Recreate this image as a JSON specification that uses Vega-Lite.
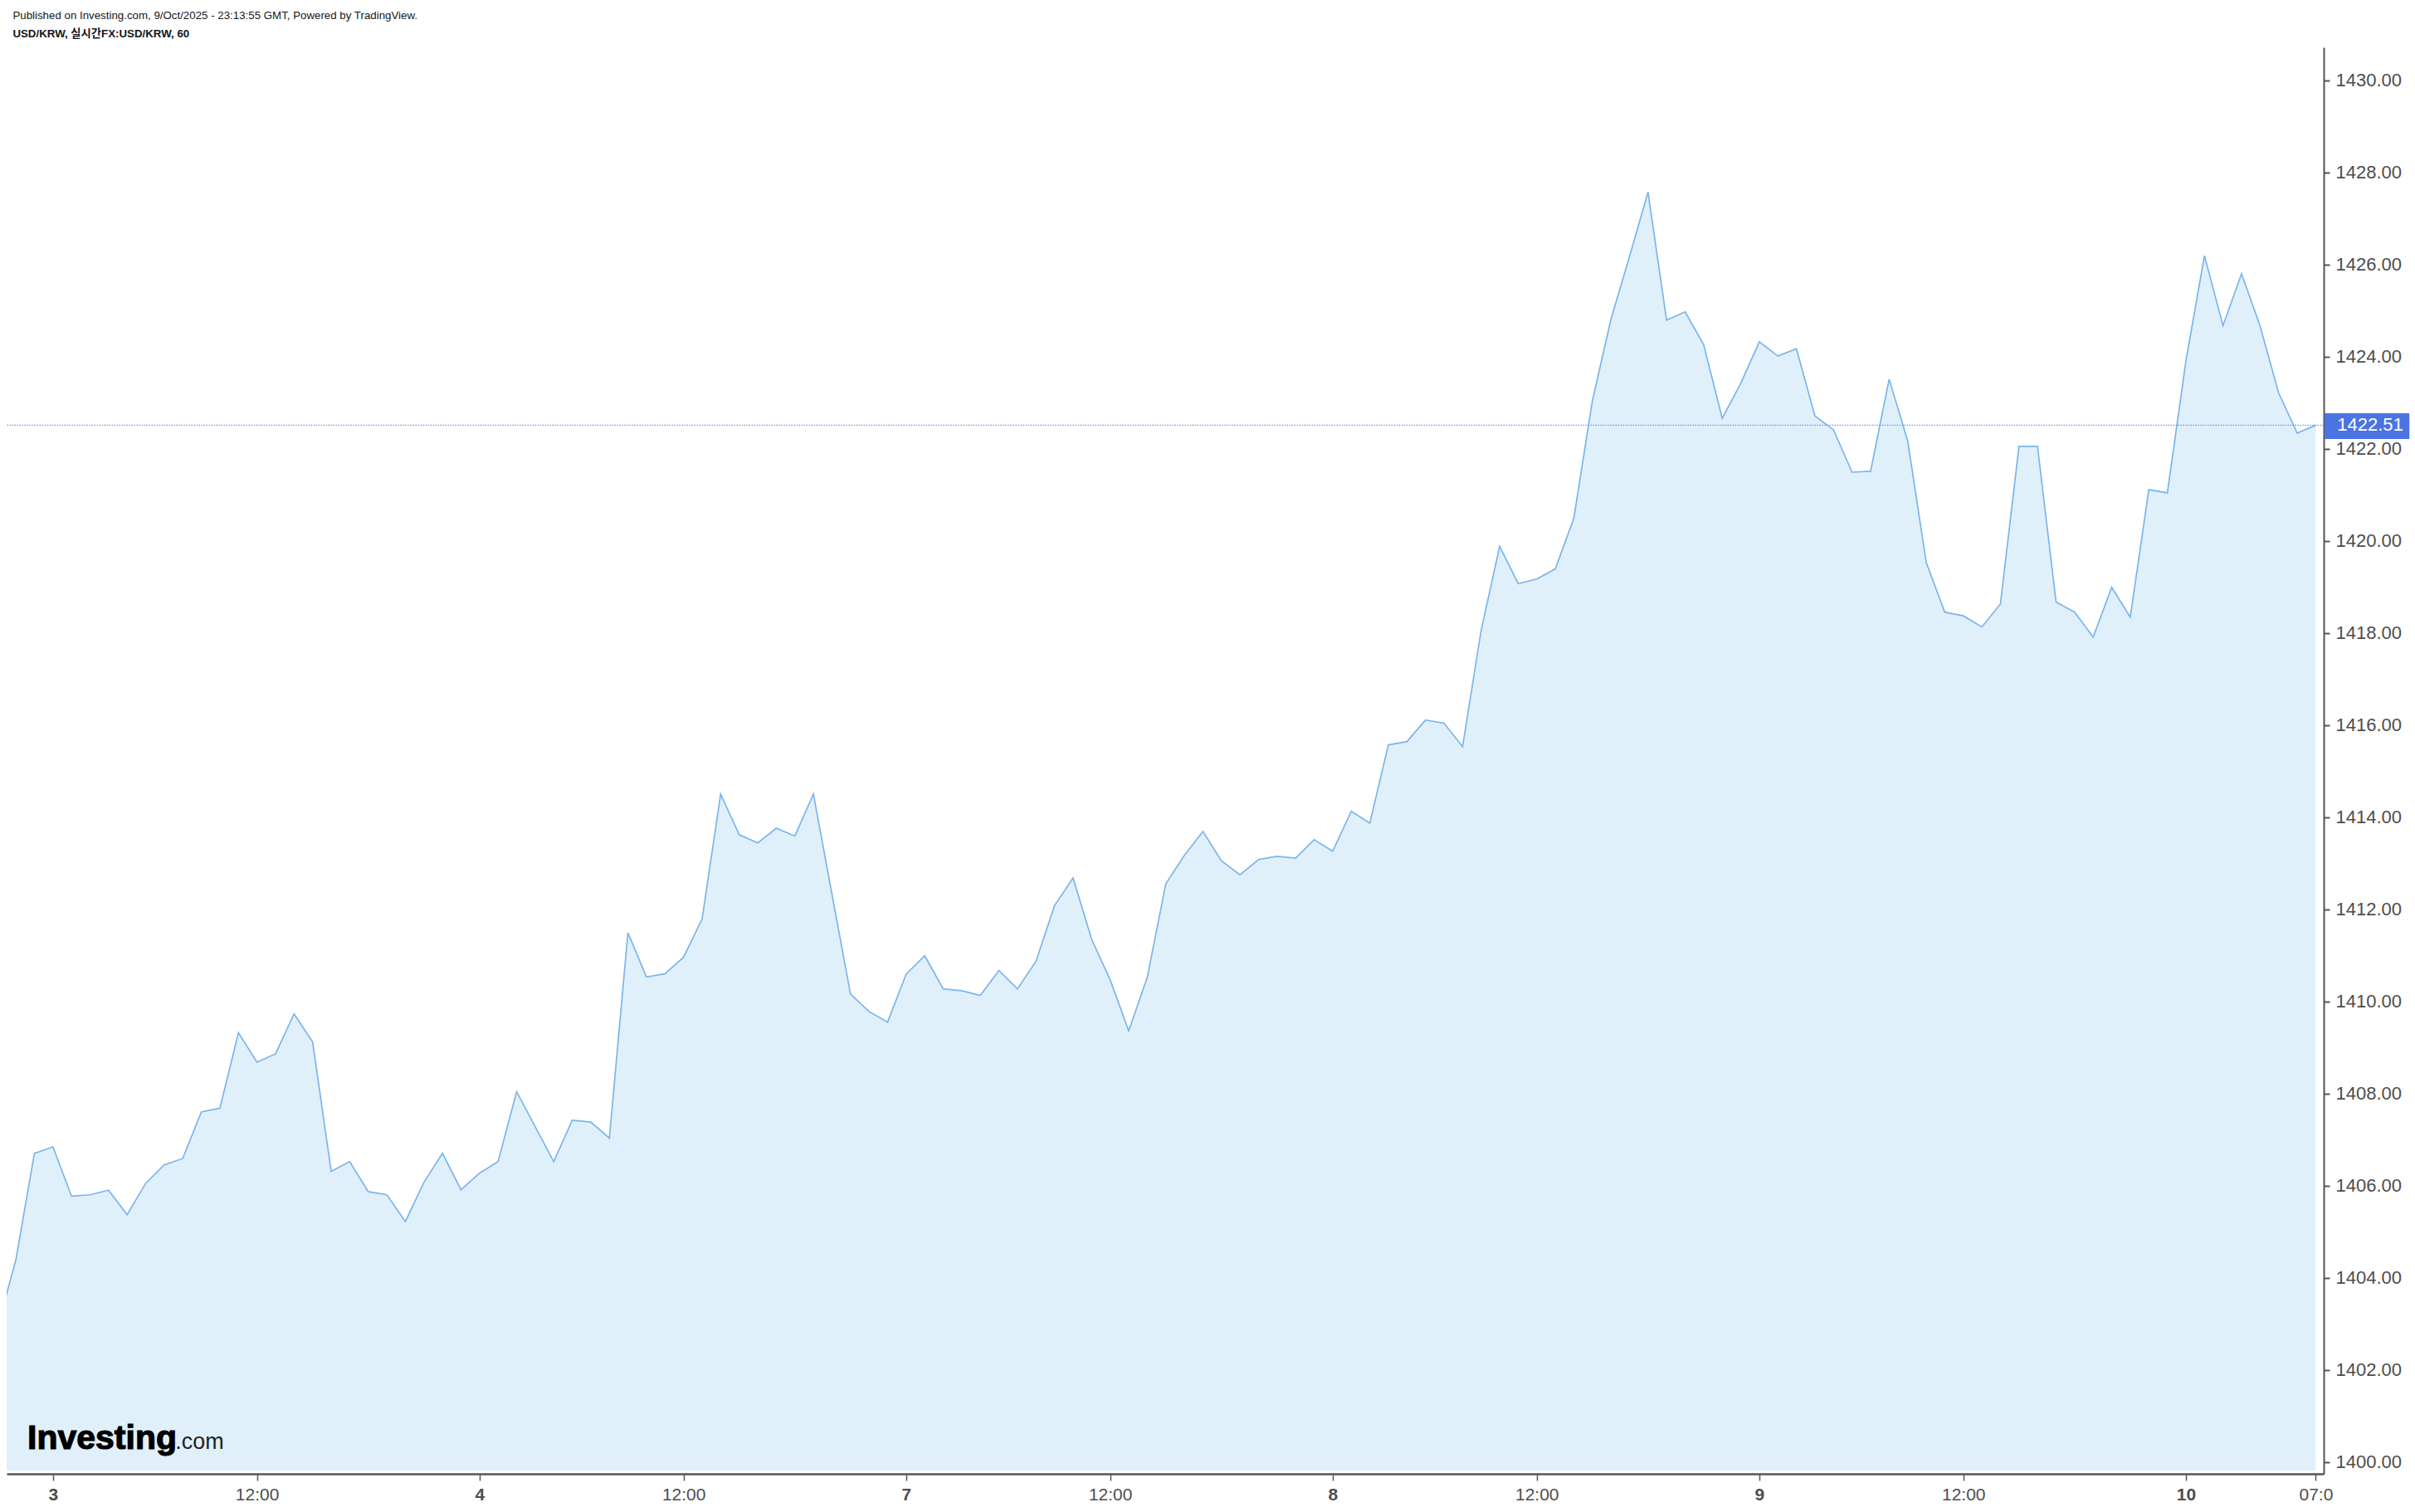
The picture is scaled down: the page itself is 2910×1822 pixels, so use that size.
{
  "$schema": "https://vega.github.io/schema/vega-lite/v6.json",
  "width": 2792,
  "height": 1719,
  "autosize": {"type": "none"},
  "padding": {"left": 8, "top": 57, "right": 110, "bottom": 46},
  "background": "#ffffff",
  "config": {"view": {"stroke": null}, "axis": {"grid": false}},
  "title": {
    "text": "Published on Investing.com, 9/Oct/2025 - 23:13:55 GMT, Powered by TradingView.",
    "subtitle": "USD/KRW, 실시간FX:USD/KRW, 60",
    "anchor": "start",
    "dx": 8,
    "offset": 10,
    "font": "Liberation Sans",
    "fontSize": 13.3,
    "fontWeight": "normal",
    "color": "#131722",
    "subtitleFont": "'Liberation Sans', 'Noto Sans CJK KR', sans-serif",
    "subtitleFontSize": 13.3,
    "subtitleFontWeight": "bold",
    "subtitleColor": "#131722",
    "subtitlePadding": 8
  },
  "layer": [
    {
      "data": {
        "values": [
          {"bar": -3, "usdkrw": 1402.90}, {"bar": -2, "usdkrw": 1404.39}, {"bar": -1, "usdkrw": 1406.70},
          {"bar": 0, "usdkrw": 1406.84}, {"bar": 1, "usdkrw": 1405.77}, {"bar": 2, "usdkrw": 1405.80},
          {"bar": 3, "usdkrw": 1405.90}, {"bar": 4, "usdkrw": 1405.37}, {"bar": 5, "usdkrw": 1406.05},
          {"bar": 6, "usdkrw": 1406.45}, {"bar": 7, "usdkrw": 1406.59}, {"bar": 8, "usdkrw": 1407.60},
          {"bar": 9, "usdkrw": 1407.68}, {"bar": 10, "usdkrw": 1409.32}, {"bar": 11, "usdkrw": 1408.68},
          {"bar": 12, "usdkrw": 1408.86}, {"bar": 13, "usdkrw": 1409.73}, {"bar": 14, "usdkrw": 1409.12},
          {"bar": 15, "usdkrw": 1406.31}, {"bar": 16, "usdkrw": 1406.52}, {"bar": 17, "usdkrw": 1405.87},
          {"bar": 18, "usdkrw": 1405.80}, {"bar": 19, "usdkrw": 1405.22}, {"bar": 20, "usdkrw": 1406.07},
          {"bar": 21, "usdkrw": 1406.70}, {"bar": 22, "usdkrw": 1405.91}, {"bar": 23, "usdkrw": 1406.27},
          {"bar": 24, "usdkrw": 1406.52}, {"bar": 25, "usdkrw": 1408.04}, {"bar": 26, "usdkrw": 1407.28},
          {"bar": 27, "usdkrw": 1406.52}, {"bar": 28, "usdkrw": 1407.42}, {"bar": 29, "usdkrw": 1407.38},
          {"bar": 30, "usdkrw": 1407.03}, {"bar": 31, "usdkrw": 1411.49}, {"bar": 32, "usdkrw": 1410.53},
          {"bar": 33, "usdkrw": 1410.60}, {"bar": 34, "usdkrw": 1410.96}, {"bar": 35, "usdkrw": 1411.79},
          {"bar": 36, "usdkrw": 1414.50}, {"bar": 37, "usdkrw": 1413.62}, {"bar": 38, "usdkrw": 1413.44},
          {"bar": 39, "usdkrw": 1413.76}, {"bar": 40, "usdkrw": 1413.59}, {"bar": 41, "usdkrw": 1414.50},
          {"bar": 42, "usdkrw": 1412.33}, {"bar": 43, "usdkrw": 1410.16}, {"bar": 44, "usdkrw": 1409.78},
          {"bar": 45, "usdkrw": 1409.55}, {"bar": 46, "usdkrw": 1410.59}, {"bar": 47, "usdkrw": 1410.99},
          {"bar": 48, "usdkrw": 1410.27}, {"bar": 49, "usdkrw": 1410.23}, {"bar": 50, "usdkrw": 1410.13},
          {"bar": 51, "usdkrw": 1410.67}, {"bar": 52, "usdkrw": 1410.27}, {"bar": 53, "usdkrw": 1410.87},
          {"bar": 54, "usdkrw": 1412.08}, {"bar": 55, "usdkrw": 1412.68}, {"bar": 56, "usdkrw": 1411.35},
          {"bar": 57, "usdkrw": 1410.47}, {"bar": 58, "usdkrw": 1409.36}, {"bar": 59, "usdkrw": 1410.52},
          {"bar": 60, "usdkrw": 1412.55}, {"bar": 61, "usdkrw": 1413.17}, {"bar": 62, "usdkrw": 1413.69},
          {"bar": 63, "usdkrw": 1413.05}, {"bar": 64, "usdkrw": 1412.75}, {"bar": 65, "usdkrw": 1413.08},
          {"bar": 66, "usdkrw": 1413.15}, {"bar": 67, "usdkrw": 1413.11}, {"bar": 68, "usdkrw": 1413.51},
          {"bar": 69, "usdkrw": 1413.26}, {"bar": 70, "usdkrw": 1414.13}, {"bar": 71, "usdkrw": 1413.87},
          {"bar": 72, "usdkrw": 1415.57}, {"bar": 73, "usdkrw": 1415.64}, {"bar": 74, "usdkrw": 1416.11},
          {"bar": 75, "usdkrw": 1416.04}, {"bar": 76, "usdkrw": 1415.53}, {"bar": 77, "usdkrw": 1418.05},
          {"bar": 78, "usdkrw": 1419.88}, {"bar": 79, "usdkrw": 1419.07}, {"bar": 80, "usdkrw": 1419.17},
          {"bar": 81, "usdkrw": 1419.39}, {"bar": 82, "usdkrw": 1420.49}, {"bar": 83, "usdkrw": 1423.04},
          {"bar": 84, "usdkrw": 1424.81}, {"bar": 85, "usdkrw": 1426.17}, {"bar": 86, "usdkrw": 1427.57},
          {"bar": 87, "usdkrw": 1424.79}, {"bar": 88, "usdkrw": 1424.97}, {"bar": 89, "usdkrw": 1424.26},
          {"bar": 90, "usdkrw": 1422.66}, {"bar": 91, "usdkrw": 1423.42}, {"bar": 92, "usdkrw": 1424.32},
          {"bar": 93, "usdkrw": 1424.01}, {"bar": 94, "usdkrw": 1424.17}, {"bar": 95, "usdkrw": 1422.71},
          {"bar": 96, "usdkrw": 1422.41}, {"bar": 97, "usdkrw": 1421.49}, {"bar": 98, "usdkrw": 1421.51},
          {"bar": 99, "usdkrw": 1423.51}, {"bar": 100, "usdkrw": 1422.17}, {"bar": 101, "usdkrw": 1419.53},
          {"bar": 102, "usdkrw": 1418.45}, {"bar": 103, "usdkrw": 1418.37}, {"bar": 104, "usdkrw": 1418.13},
          {"bar": 105, "usdkrw": 1418.63}, {"bar": 106, "usdkrw": 1422.05}, {"bar": 107, "usdkrw": 1422.05},
          {"bar": 108, "usdkrw": 1418.67}, {"bar": 109, "usdkrw": 1418.45}, {"bar": 110, "usdkrw": 1417.91},
          {"bar": 111, "usdkrw": 1418.99}, {"bar": 112, "usdkrw": 1418.34}, {"bar": 113, "usdkrw": 1421.11},
          {"bar": 114, "usdkrw": 1421.04}, {"bar": 115, "usdkrw": 1423.90}, {"bar": 116, "usdkrw": 1426.19},
          {"bar": 117, "usdkrw": 1424.67}, {"bar": 118, "usdkrw": 1425.80}, {"bar": 119, "usdkrw": 1424.66},
          {"bar": 120, "usdkrw": 1423.21}, {"bar": 121, "usdkrw": 1422.34}, {"bar": 122, "usdkrw": 1422.51}
        ]
      },
      "layer": [
        {
          "mark": {"type": "area", "color": "#e0f0fa", "clip": true},
          "encoding": {
            "x": {
              "field": "bar", "type": "quantitative",
              "scale": {"domain": [-2.497, 122.43], "nice": false, "zero": false},
              "axis": {
                "orient": "bottom", "title": null,
                "values": [0, 11, 23, 34, 46, 57, 69, 80, 92, 103, 115, 122],
                "labelExpr": "datum.value == 0 ? '3' : datum.value == 23 ? '4' : datum.value == 46 ? '7' : datum.value == 69 ? '8' : datum.value == 92 ? '9' : datum.value == 115 ? '10' : datum.value == 122 ? '07:0' : '12:00'",
                "labelFont": "Liberation Sans", "labelFontSize": 21, "labelColor": "#4d4d4d",
                "labelFontWeight": {"condition": {"test": "datum.value == 0 || datum.value == 23 || datum.value == 46 || datum.value == 69 || datum.value == 92 || datum.value == 115", "value": "bold"}, "value": "normal"},
                "labelPadding": 6, "labelOverlap": false, "labelBound": false, "labelFlush": false,
                "domainColor": "#555555", "domainWidth": 2.5,
                "tickColor": "#555555", "tickWidth": 1.5, "tickSize": 8
              }
            },
            "y": {
              "field": "usdkrw", "type": "quantitative",
              "scale": {"domain": [1399.742, 1430.715], "nice": false, "zero": false},
              "axis": {
                "orient": "right", "title": null,
                "values": [1400, 1402, 1404, 1406, 1408, 1410, 1412, 1414, 1416, 1418, 1420, 1422, 1424, 1426, 1428, 1430],
                "format": ".2f",
                "labelFont": "Liberation Sans", "labelFontSize": 22, "labelColor": "#4d4d4d",
                "labelPadding": 7, "labelOverlap": false, "labelBound": false, "labelFlush": false,
                "domainColor": "#555555", "domainWidth": 2,
                "tickColor": "#555555", "tickWidth": 2, "tickSize": 7
              }
            },
            "y2": {"datum": 1399.815}
          }
        },
        {
          "mark": {"type": "line", "color": "#7ab5ec", "strokeWidth": 1.7, "clip": true},
          "encoding": {
            "x": {"field": "bar", "type": "quantitative"},
            "y": {"field": "usdkrw", "type": "quantitative"}
          }
        }
      ]
    },
    {
      "data": {"values": [{"price": 1422.51}]},
      "layer": [
        {
          "mark": {"type": "rule", "color": "#6f93ea", "strokeWidth": 1.2, "strokeDash": [1.5, 1.5]},
          "encoding": {"y": {"field": "price", "type": "quantitative"}}
        },
        {
          "mark": {"type": "rect", "color": "#4b73e2"},
          "encoding": {
            "x": {"datum": 122.47}, "x2": {"datum": 127.05},
            "y": {"datum": 1422.769}, "y2": {"datum": 1422.211}
          }
        },
        {
          "mark": {"type": "text", "font": "Liberation Sans", "fontSize": 22, "color": "#ffffff", "align": "left", "baseline": "middle"},
          "encoding": {
            "x": {"datum": 123.16},
            "y": {"field": "price", "type": "quantitative"},
            "text": {"field": "price", "type": "quantitative", "format": ".2f"}
          }
        }
      ]
    },
    {
      "data": {"values": [{"brand": "Investing", "suffix": ".com"}]},
      "layer": [
        {
          "mark": {"type": "text", "font": "Liberation Sans", "fontSize": 41, "fontWeight": "bold", "color": "#000000", "stroke": "#000000", "strokeWidth": 1.2, "align": "left", "baseline": "alphabetic"},
          "encoding": {"x": {"datum": -1.378}, "y": {"datum": 1400.283}, "text": {"field": "brand"}}
        },
        {
          "mark": {"type": "text", "font": "Liberation Sans", "fontSize": 27, "fontWeight": "normal", "color": "#222222", "align": "left", "baseline": "alphabetic"},
          "encoding": {"x": {"datum": 6.6}, "y": {"datum": 1400.283}, "text": {"field": "suffix"}}
        }
      ]
    }
  ]
}
